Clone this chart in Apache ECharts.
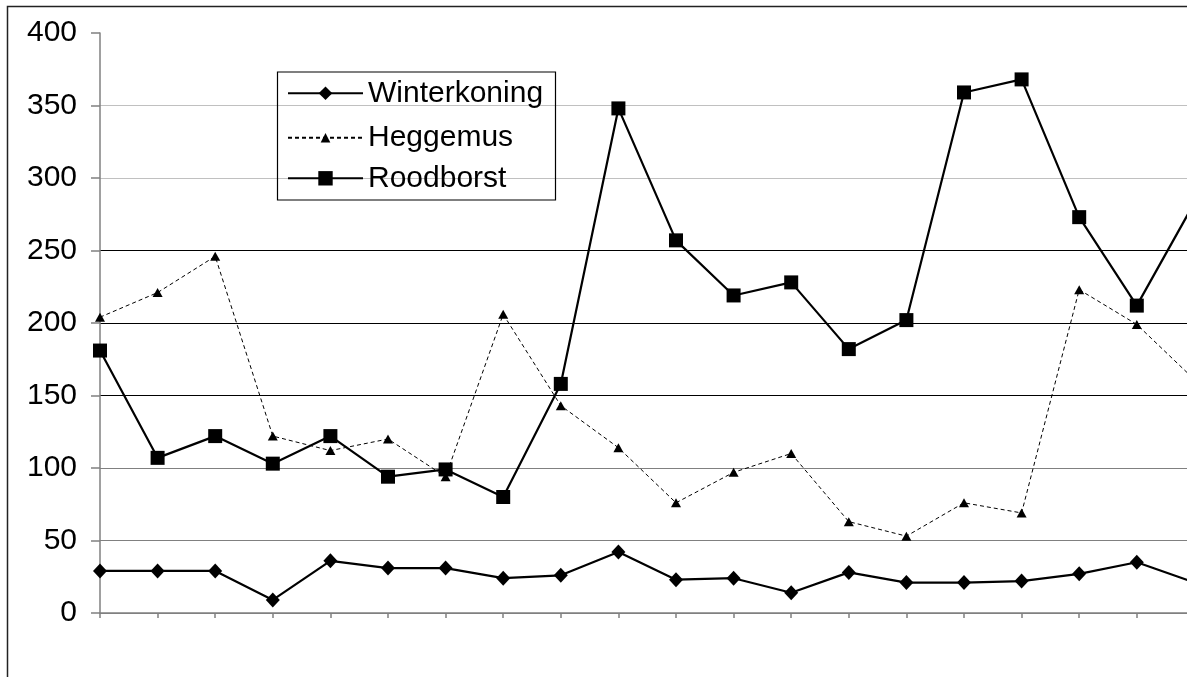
<!DOCTYPE html>
<html>
<head>
<meta charset="utf-8">
<style>
html,body{margin:0;padding:0;background:#fff;}
#chart{width:1187px;height:677px;}
</style>
<script src="https://cdn.jsdelivr.net/npm/echarts@6/dist/echarts.min.js"></script>
</head>
<body>
<div id="chart"></div>
<script>
const categories = ['1','2','3','4','5','6','7','8','9','10','11','12','13','14','15','16','17','18','19','20'];
const winterkoning = [29,29,29,9,36,31,31,24,26,42,23,24,14,28,21,21,22,27,35,21];
const heggemus = [204,221,246,122,112,120,94,206,143,114,76,97,110,63,53,76,69,223,199,161];
const roodborst = [181,107,122,103,122,94,99,80,158,348,257,219,228,182,202,359,368,273,212,283];
const yTicks = [0,50,100,150,200,250,300,350,400];

const chart = echarts.init(document.getElementById('chart'), null, {renderer:'canvas'});
const font = 'Liberation Sans, Arial, sans-serif';
function legendCfg(name, top, itemHeight) {
  return {
    data:[name], left:287, top:top, orient:'vertical', padding:0,
    itemWidth:75, itemHeight:itemHeight, selectedMode:false,
    textStyle:{fontFamily:font, fontSize:30, color:'#000', lineHeight:32}
  };
}
chart.setOption({
  backgroundColor:'#fff',
  animation:false,
  grid:{left:100, top:33, height:580, width:1094.4, containLabel:false, outerBoundsMode:'none'},
  xAxis:{
    type:'category', data:categories, boundaryGap:false,
    axisLine:{lineStyle:{color:'#808080', width:1.5}},
    axisTick:{show:true, length:5, lineStyle:{color:'#808080', width:1.5}},
    axisLabel:{show:false},
    splitLine:{show:false}
  },
  yAxis:{
    type:'value', min:yTicks[0], max:yTicks[yTicks.length-1], interval:50,
    axisLine:{show:true, lineStyle:{color:'#808080', width:1.5}},
    axisTick:{show:true, length:9, lineStyle:{color:'#808080', width:1.5}},
    axisLabel:{fontFamily:font, fontSize:30, color:'#000', margin:23},
    splitLine:{show:true, showMaxLine:false, lineStyle:{width:1, color:['#808080','#808080','#808080','#000','#000','#000','#c0c0c0','#c0c0c0']}}
  },
  legend:[
    legendCfg('Winterkoning', 77.3, 17),
    legendCfg('Heggemus', 121.7, 12),
    legendCfg('Roodborst', 162.3, 18)
  ],
  graphic:[
    {type:'rect', z:100, shape:{x:7.5, y:6.5, width:1400, height:1000}, style:{fill:'none', stroke:'#222', lineWidth:1.5}, silent:true},
    {type:'rect', z:100, shape:{x:277.5, y:72, width:278, height:128}, style:{fill:'none', stroke:'#000', lineWidth:1.2}, silent:true}
  ],
  series:[
    {name:'Winterkoning', type:'line', data:winterkoning, symbol:'diamond', symbolSize:[14,15],
     lineStyle:{color:'#000', width:2.2}, itemStyle:{color:'#000'}, z:3},
    {name:'Heggemus', type:'line', data:heggemus, symbol:'triangle', symbolSize:[10,9],
     lineStyle:{color:'#000', width:1, type:[4,3]}, itemStyle:{color:'#000'}, z:2},
    {name:'Roodborst', type:'line', data:roodborst, symbol:'rect', symbolSize:14,
     lineStyle:{color:'#000', width:2.2}, itemStyle:{color:'#000'}, z:4}
  ]
});
</script>
</body>
</html>
